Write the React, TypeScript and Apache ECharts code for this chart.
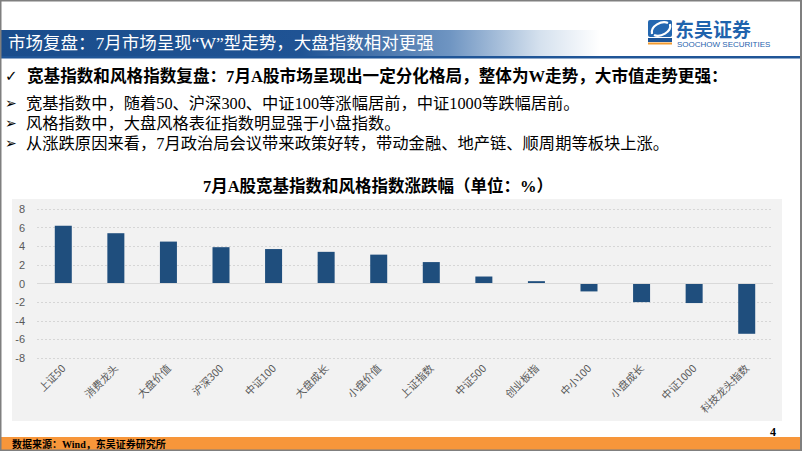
import React, { useEffect, useRef } from "react";
import * as echarts from "echarts";

const categories = ["上证50", "消费龙头", "大盘价值", "沪深300", "中证100", "大盘成长", "小盘价值", "上证指数", "中证500", "创业板指", "中小100", "小盘成长", "中证1000", "科技龙头指数"];
const changes = [6.2, 5.4, 4.5, 3.9, 3.7, 3.4, 3.1, 2.3, 0.75, 0.25, -0.85, -2.0, -2.1, -5.4];
const yTicks = { min: -8, max: 8, interval: 2 };

const headerTitle = "市场复盘：7月市场呈现“W”型走势，大盘指数相对更强";
const summaryLine = "宽基指数和风格指数复盘：7月A股市场呈现出一定分化格局，整体为W走势，大市值走势更强：";
const bulletLines = [
  "宽基指数中，随着50、沪深300、中证100等涨幅居前，中证1000等跌幅居前。",
  "风格指数中，大盘风格表征指数明显强于小盘指数。",
  "从涨跌原因来看，7月政治局会议带来政策好转，带动金融、地产链、顺周期等板块上涨。",
];
const chartTitle = "7月A股宽基指数和风格指数涨跌幅（单位：%）";
const sourceText = "数据来源：Wind，东吴证券研究所";
const pageNo = "4";

const SERIF = "'Liberation Serif', 'Noto Sans CJK SC', 'DejaVu Sans', serif";
const SANS = "'Liberation Sans', Arial, 'Noto Sans CJK SC', sans-serif";
const CJK = "'Noto Sans CJK SC', sans-serif";

function txt(text: string, x: number, y: number, opts: any = {}) {
  return {
    type: "text",
    z: 10,
    style: {
      text,
      x,
      y,
      fill: opts.fill || "#000",
      fontSize: opts.fontSize || 14,
      fontWeight: opts.fontWeight || "normal",
      fontFamily: opts.fontFamily || SERIF,
      align: opts.align || "left",
      textAlign: opts.align || "left",
      verticalAlign: "middle",
      textVerticalAlign: "middle",
    },
  };
}

export default function App() {
  const ref = useRef<HTMLDivElement>(null);
  useEffect(() => {
    if (!ref.current) return;
    const chart = echarts.init(ref.current, undefined, { renderer: "svg" });
    const graphics: any[] = [
      // chart panel background
      { type: "rect", z: -10, shape: { x: 12, y: 199, width: 770, height: 222 }, style: { fill: "#f2f2f2" } },
      // header band
      {
        type: "rect", z: 1, shape: { x: 0, y: 30, width: 600, height: 26 },
        style: {
          fill: new echarts.graphic.LinearGradient(0, 0, 1, 0, [
            { offset: 0, color: "#1a4d8c" },
            { offset: 0.5, color: "#1f5394" },
            { offset: 0.75, color: "#6f95c2" },
            { offset: 0.9, color: "#d5e1ee" },
            { offset: 1, color: "#ffffff" },
          ]),
        },
      },
      { type: "rect", z: 1, shape: { x: 0, y: 56, width: 802, height: 2.5 }, style: { fill: "#1f5597" } },
      txt(headerTitle, 8, 43, { fill: "#ffffff", fontSize: 17.5 }),
      // logo
      { type: "rect", z: 2, shape: { x: 648, y: 20, width: 24, height: 17, r: 2 }, style: { fill: "#2467b0" } },
      { type: "bezierCurve", z: 3, shape: { x1: 652, y1: 34, x2: 668, y2: 23, cpx1: 650, cpy1: 26, cpx2: 662, cpy2: 20 }, style: { stroke: "#ffffff", lineWidth: 2.2, fill: "none" } },
      { type: "bezierCurve", z: 3, shape: { x1: 654, y1: 35, x2: 670, y2: 24, cpx1: 660, cpy1: 38, cpx2: 672, cpy2: 32 }, style: { stroke: "#ffffff", lineWidth: 2.2, fill: "none" } },
      { type: "rect", z: 2, shape: { x: 648, y: 38, width: 24, height: 4 }, style: { fill: "#1f5597" } },
      { type: "rect", z: 2, shape: { x: 648, y: 42.5, width: 24, height: 2 }, style: { fill: "#f29a2e" } },
      txt("东吴证券", 675, 28, { fill: "#1f63ad", fontSize: 19, fontWeight: "bold", fontFamily: CJK }),
      txt("SOOCHOW SECURITIES", 677, 44.5, { fill: "#1f63ad", fontSize: 8, fontFamily: SANS }),
      // summary
      txt("✓", 5, 76, { fontSize: 15, fontFamily: "'DejaVu Sans', sans-serif" }),
      txt(summaryLine, 27, 76, { fontSize: 16.6, fontWeight: "bold" }),
      ...bulletLines.flatMap((l, i) => [
        txt("➢", 5, 103 + i * 20, { fontSize: 14, fontFamily: "'DejaVu Sans', sans-serif" }),
        txt(l, 26, 103 + i * 20, { fontSize: 16.3 }),
      ]),
      txt(chartTitle, 378, 186, { fontSize: 16.5, fontWeight: "bold", align: "center" }),
      // page number
      txt(pageNo, 776, 432, { fontSize: 12, fontWeight: "bold", align: "right" }),
      // footer
      { type: "rect", z: 1, shape: { x: 0, y: 437, width: 802, height: 14 }, style: { fill: "#f7963a" } },
      txt(sourceText, 12, 444.5, { fontSize: 10, fontWeight: "bold" }),
      // frame border
      { type: "rect", z: 20, shape: { x: 0.5, y: 0.5, width: 800.5, height: 450 }, style: { fill: "none", stroke: "#7f7f7f", lineWidth: 2 } },
    ];

    chart.setOption({
      animation: false,
      backgroundColor: "#ffffff",
      grid: { left: 37, right: 29, top: 209, bottom: 93, containLabel: false },
      xAxis: {
        type: "category",
        data: categories,
        axisLine: { show: false, onZero: false },
        axisTick: { show: false },
        axisLabel: { interval: 0, rotate: 45, fontSize: 10.5, color: "#595959", margin: 8, fontFamily: CJK },
      },
      yAxis: {
        type: "value",
        min: yTicks.min,
        max: yTicks.max,
        interval: yTicks.interval,
        axisLine: { show: false },
        axisTick: { show: false },
        axisLabel: { fontSize: 11, color: "#595959", margin: 12, fontFamily: SANS },
        splitLine: { show: true, lineStyle: { color: "#d6d6d6", type: [2, 2], width: 1 } },
      },
      series: [
        {
          type: "bar",
          data: changes,
          barWidth: 17,
          itemStyle: { color: "#1f4e7d" },
          markLine: {
            silent: true,
            symbol: "none",
            label: { show: false },
            lineStyle: { color: "#d9d9d9", type: "solid", width: 1 },
            data: [{ yAxis: 0 }],
          },
        },
      ],
      graphic: { elements: graphics },
    });
    return () => chart.dispose();
  }, []);
  return <div ref={ref} style={{ position: "fixed", left: 0, top: 0, width: 802, height: 451 }} />;
}
